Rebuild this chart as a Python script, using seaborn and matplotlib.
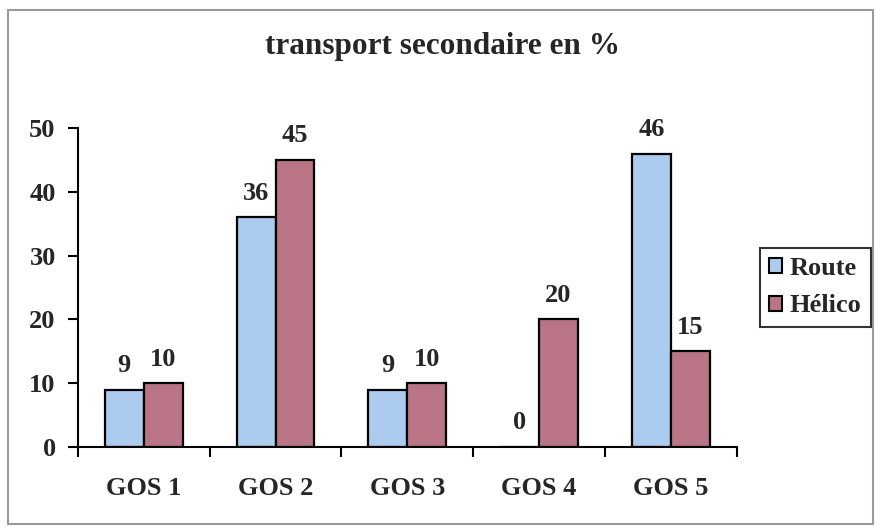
import matplotlib
matplotlib.use("Agg")
import matplotlib.pyplot as plt
import matplotlib.patches as mpatches
import seaborn as sns
import pandas as pd

categories = ["GOS 1", "GOS 2", "GOS 3", "GOS 4", "GOS 5"]
route = [9, 36, 9, 0, 46]
helico = [10, 45, 10, 20, 15]
series_names = ["Route", "Hélico"]
yticks = [0, 10, 20, 30, 40, 50]
title = "transport secondaire en %"

colors = {"Route": "#abcbef", "Hélico": "#b97585"}

df = pd.DataFrame({
    "cat": categories * 2,
    "val": route + helico,
    "serie": [series_names[0]] * len(categories) + [series_names[1]] * len(categories),
})

sns.set_theme(style="white")
plt.rcParams["font.family"] = ["Liberation Serif", "DejaVu Serif"]
plt.rcParams["font.weight"] = "bold"

FS = 19

fig = plt.figure(figsize=(8.75, 5.27), dpi=100)
ax = fig.add_axes([0.089, 0.152, 0.753, 0.605])

sns.barplot(data=df, x="cat", y="val", hue="serie", order=categories,
            hue_order=series_names, palette=colors, width=0.59, gap=0,
            edgecolor="black", linewidth=1.6, saturation=1, ax=ax, legend=False)

for cont in ax.containers:
    ax.bar_label(cont, fmt="%d", padding=9, fontsize=FS, fontweight="bold")

ax.set_xlim(-0.5, len(categories) - 0.5)
ax.set_ylim(0, 50)
ax.set_yticks(yticks)
ax.set_yticklabels([str(v) for v in yticks], fontsize=FS, fontweight="bold")
ax.set_xlabel("")
ax.set_ylabel("")

# tick marks sit between categories, labels at category centres
ax.set_xticks([i - 0.5 for i in range(len(categories) + 1)])
ax.set_xticklabels([])
ax.set_xticks(range(len(categories)), minor=True)
ax.set_xticklabels(categories, minor=True, fontsize=FS, fontweight="bold")
ax.tick_params(axis="x", which="major", direction="out", length=7, width=1.5, color="black", bottom=True)
ax.tick_params(axis="x", which="minor", length=0, pad=22)
ax.tick_params(axis="y", direction="out", length=7, width=1.5, color="black", left=True, pad=9)

for s in ["top", "right"]:
    ax.spines[s].set_visible(False)
for s in ["left", "bottom"]:
    ax.spines[s].set_color("black")
    ax.spines[s].set_linewidth(1.5)
ax.grid(False)

fig.text(0.506, 0.911, title, ha="center", va="center", fontsize=22.5, fontweight="bold")

handles = [mpatches.Patch(facecolor=colors[n], edgecolor="black", linewidth=1.5, label=n)
           for n in series_names]
leg = fig.legend(handles=handles, loc="center left", bbox_to_anchor=(0.868, 0.455),
                 frameon=True, fancybox=False, handlelength=0.5,
                 handleheight=0.5, handletextpad=0.3, borderpad=0.35, labelspacing=0.55,
                 borderaxespad=0, prop={"weight": "bold", "size": FS})
leg.get_frame().set_edgecolor("black")
leg.get_frame().set_linewidth(1.5)

# outer frame around the chart area
fig.patches.append(mpatches.Rectangle((0.009, 0.006), 0.989, 0.975, transform=fig.transFigure,
                                      fill=False, edgecolor="#9a9a9a", linewidth=1.5))

fig.savefig("out.png", dpi=100)
